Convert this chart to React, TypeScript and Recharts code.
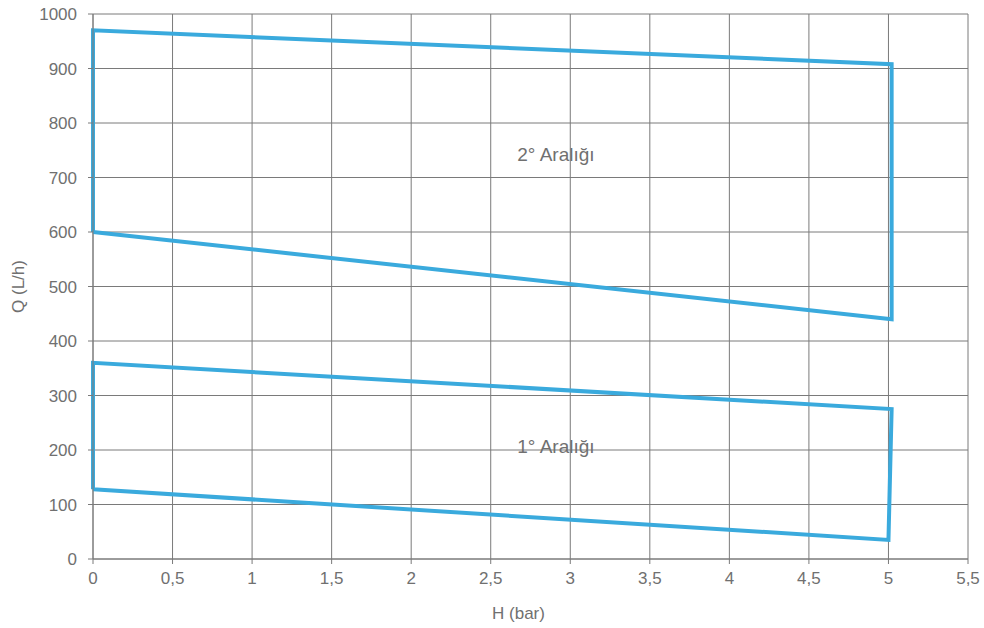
import { CartesianGrid, ComposedChart, Line, ReferenceDot, XAxis, YAxis } from "recharts";

// Q-H çalışma aralıkları (kapalı çokgenler)
const range1 = [
    { h: 0, q: 128 },
    { h: 0, q: 360 },
    { h: 5.02, q: 275 },
    { h: 5.0, q: 35 },
    { h: 0, q: 128 },
];

const range2 = [
    { h: 0, q: 600 },
    { h: 0, q: 970 },
    { h: 5.02, q: 908 },
    { h: 5.02, q: 440 },
    { h: 0, q: 600 },
];

const rangeLabels = [
    { h: 2.91, q: 742, text: "2° Aralığı" },
    { h: 2.91, q: 207, text: "1° Aralığı" },
];

const xTicks = [0, 0.5, 1, 1.5, 2, 2.5, 3, 3.5, 4, 4.5, 5, 5.5];
const yTicks = [0, 100, 200, 300, 400, 500, 600, 700, 800, 900, 1000];

const LINE_COLOR = "#3aaadd";
const GRID_COLOR = "#7a7a7a";
const TEXT_COLOR = "#707070";
const FONT = "'Liberation Sans', Arial, sans-serif";

const tickStyle = { fill: TEXT_COLOR, fontSize: 17, fontFamily: FONT };
const noteStyle = { ...tickStyle, fontSize: 19, textAnchor: "middle" };

const App = () => {
    return (
        <div style={{ position: "absolute", left: 0, top: 0, width: 984, height: 628, background: "#fff" }}>
            <ComposedChart
                width={984}
                height={628}
                margin={{ top: 14, right: 16, bottom: 0, left: 0 }}
            >
                <CartesianGrid stroke={GRID_COLOR} strokeWidth={1} />
                <XAxis
                    type="number"
                    dataKey="h"
                    domain={[0, 5.5]}
                    ticks={xTicks}
                    interval={0}
                    height={69}
                    tickSize={5}
                    tickMargin={8}
                    stroke={GRID_COLOR}
                    tick={tickStyle}
                    tickFormatter={(v: number) => String(v).replace(".", ",")}
                    label={{
                        value: "H (bar)",
                        position: "insideBottom",
                        offset: 9,
                        dx: -12,
                        style: { ...tickStyle, textAnchor: "middle" },
                    }}
                />
                <YAxis
                    type="number"
                    dataKey="q"
                    domain={[0, 1000]}
                    ticks={yTicks}
                    interval={0}
                    width={93}
                    tickSize={5}
                    tickMargin={11}
                    stroke={GRID_COLOR}
                    tick={tickStyle}
                    label={{
                        value: "Q (L/h)",
                        angle: -90,
                        position: "insideLeft",
                        offset: 18,
                        style: { ...tickStyle, textAnchor: "middle" },
                    }}
                />
                <Line
                    data={range2}
                    dataKey="q"
                    type="linear"
                    stroke={LINE_COLOR}
                    strokeWidth={4}
                    dot={false}
                    activeDot={false}
                    isAnimationActive={false}
                />
                <Line
                    data={range1}
                    dataKey="q"
                    type="linear"
                    stroke={LINE_COLOR}
                    strokeWidth={4}
                    dot={false}
                    activeDot={false}
                    isAnimationActive={false}
                />
                {rangeLabels.map((l) => (
                    <ReferenceDot
                        key={l.text}
                        x={l.h}
                        y={l.q}
                        r={0}
                        fill="none"
                        stroke="none"
                        label={{
                            value: l.text,
                            position: "center",
                            style: noteStyle,
                        }}
                    />
                ))}
            </ComposedChart>
        </div>
    );
};

export default App;
